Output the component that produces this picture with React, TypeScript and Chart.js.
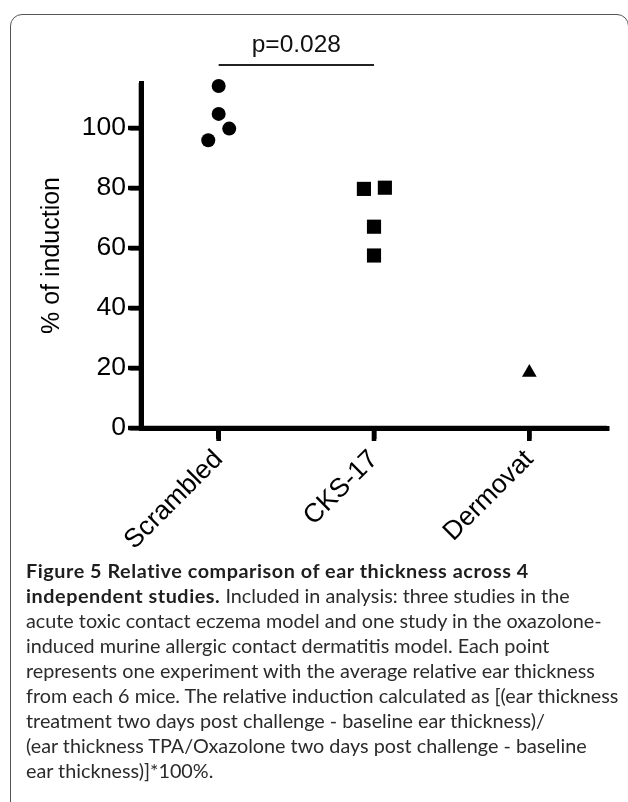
import React, { useEffect, useRef } from "react";
import { Chart, registerables } from "chart.js";

Chart.register(...registerables);

// ---- data ----
const categories = ["Scrambled", "CKS-17", "Dermovat"];
const scrambledValues = [114, 104.7, 99.8, 95.9];
const scrambledJitter = [0, 0, 0.068, -0.067];
const cksValues = [79.7, 80.1, 67.1, 57.5];
const cksJitter = [-0.065, 0.07, 0, 0];
const dermovatValues = [18.5];
const dermovatJitter = [0];
const yTicks = [0, 20, 40, 60, 80, 100];
const yAxisTitle = "% of induction";
const comparisonFrom = 0;
const comparisonTo = 1;
const comparisonLineValue = 121;
const comparisonLabelValue = 125.3;
const comparisonLabel = "p=0.028";

const captionBoldLine1 = "Figure 5 Relative comparison of ear thickness across 4";
const captionBoldLine2 = "independent studies.";
const captionRestLine2 = " Included in analysis: three studies in the";
const captionLines = [
  "acute toxic contact eczema model and one study in the oxazolone-",
  "induced murine allergic contact dermatitis model. Each point",
  "represents one experiment with the average relative ear thickness",
  "from each 6 mice. The relative induction calculated as [(ear thickness",
  "treatment two days post challenge - baseline ear thickness)/",
  "(ear thickness TPA/Oxazolone two days post challenge - baseline",
  "ear thickness)]*100%.",
];

const FONT = '"Liberation Sans", Arial, Helvetica, sans-serif';
const AXIS_W = 4.6;
const TICK_LEN = 13;

const toPoints = (cat: number, values: number[], jitter: number[]) =>
  values.map((v, i) => ({ x: cat + jitter[i], y: v }));

// heavy axes drawn on the library's own scale geometry
const heavyAxesPlugin = {
  id: "heavyAxes",
  beforeDatasetsDraw(chart: any) {
    const { ctx, chartArea, scales } = chart;
    const x = scales.x;
    const y = scales.y;
    const { left, right, top, bottom } = chartArea;
    ctx.save();
    ctx.strokeStyle = "#000";
    ctx.lineWidth = AXIS_W;
    ctx.lineCap = "butt";
    ctx.beginPath();
    // y axis
    ctx.moveTo(left, top);
    ctx.lineTo(left, bottom + AXIS_W / 2);
    // x axis
    ctx.moveTo(left - AXIS_W / 2, bottom);
    ctx.lineTo(right, bottom);
    // y ticks
    yTicks.forEach((v) => {
      const py = y.getPixelForValue(v);
      ctx.moveTo(left - TICK_LEN, py);
      ctx.lineTo(left, py);
    });
    // x ticks
    categories.forEach((_, i) => {
      const px = x.getPixelForValue(i);
      ctx.moveTo(px, bottom);
      ctx.lineTo(px, bottom + TICK_LEN);
    });
    ctx.stroke();
    ctx.restore();
  },
};

const bracketPlugin = {
  id: "bracket",
  afterDraw(chart: any) {
    const { ctx, scales } = chart;
    const x = scales.x;
    const y = scales.y;
    const x1 = x.getPixelForValue(comparisonFrom);
    const x2 = x.getPixelForValue(comparisonTo);
    const yl = y.getPixelForValue(comparisonLineValue);
    ctx.save();
    ctx.strokeStyle = "#222";
    ctx.lineWidth = 2;
    ctx.beginPath();
    ctx.moveTo(x1, yl);
    ctx.lineTo(x2, yl);
    ctx.stroke();
    ctx.fillStyle = "#111";
    ctx.font = `24.5px ${FONT}`;
    ctx.textAlign = "center";
    ctx.textBaseline = "alphabetic";
    ctx.fillText(comparisonLabel, (x1 + x2) / 2, y.getPixelForValue(comparisonLabelValue));
    ctx.restore();
  },
};

const axisGrid = {
  display: true,
  drawOnChartArea: false,
  drawTicks: true,
  tickLength: 11,
  tickWidth: 4.5,
  lineWidth: 4.5,
  color: "#000",
  tickColor: "#000",
};

export default function App() {
  const ref = useRef<HTMLCanvasElement | null>(null);

  useEffect(() => {
    if (!ref.current) return;
    const chart = new Chart(ref.current, {
      type: "scatter",
      data: {
        datasets: [
          {
            label: categories[0],
            data: toPoints(0, scrambledValues, scrambledJitter),
            pointStyle: "circle",
            pointRadius: 7,
            backgroundColor: "#000",
            borderWidth: 0,
            clip: false,
          },
          {
            label: categories[1],
            data: toPoints(1, cksValues, cksJitter),
            pointStyle: "rect",
            pointRadius: 10,
            backgroundColor: "#000",
            borderWidth: 0,
            clip: false,
          },
          {
            label: categories[2],
            data: toPoints(2, dermovatValues, dermovatJitter),
            pointStyle: "triangle",
            pointRadius: 8.5,
            backgroundColor: "#000",
            borderWidth: 0,
            clip: false,
          },
        ] as any,
      },
      options: {
        animation: false,
        responsive: false,
        devicePixelRatio: 1,
        events: [],
        layout: { padding: { left: 10, right: 21, top: 83, bottom: 0 } },
        plugins: {
          legend: { display: false },
          tooltip: { enabled: false },
        },
        scales: {
          x: {
            type: "linear",
            min: -0.5,
            max: 2.5,
            afterBuildTicks: (scale: any) => {
              scale.ticks = categories.map((_, i) => ({ value: i }));
            },
            afterFit: (scale: any) => {
              scale.height = 172;
            },
            ticks: {
              autoSkip: false,
              minRotation: 45,
              maxRotation: 45,
              padding: 5,
              color: "#000",
              font: { family: FONT, size: 26.5 },
              callback: (v: any) => categories[Math.round(Number(v))] ?? "",
            },
            grid: axisGrid,
            border: { display: true, color: "#000", width: 5 },
          },
          y: {
            type: "linear",
            min: 0,
            max: 115,
            afterBuildTicks: (scale: any) => {
              scale.ticks = yTicks.map((v) => ({ value: v }));
            },
            afterFit: (scale: any) => {
              scale.width = 131;
            },
            ticks: {
              padding: 4,
              color: "#000",
              font: { family: FONT, size: 26.5 },
            },
            title: {
              display: true,
              text: yAxisTitle,
              color: "#000",
              font: { family: FONT, size: 25 },
              padding: { top: 27, bottom: 0 },
            },
            grid: axisGrid,
            border: { display: true, color: "#000", width: 5 },
          },
        },
      } as any,
      plugins: [heavyAxesPlugin, bracketPlugin],
    });
    return () => chart.destroy();
  }, []);

  const bold = { fontWeight: 700, color: "#1e1e1e", letterSpacing: "0.55px" };

  return (
    <div
      style={{
        position: "fixed",
        left: 0,
        top: 0,
        width: 628,
        height: 802,
        overflow: "hidden",
        background: "#fff",
      }}
    >
      <div
        style={{
          position: "absolute",
          left: 10,
          top: 14,
          width: 619,
          height: 820,
          boxSizing: "border-box",
          border: "1.5px solid #555",
          borderRadius: 12,
        }}
      />
      <canvas
        ref={ref}
        width={628}
        height={600}
        style={{ position: "absolute", left: 0, top: 0, width: 628, height: 600 }}
      />
      <div
        style={{
          position: "absolute",
          left: 26,
          top: 558,
          fontFamily: "Lato, 'Open Sans', sans-serif",
          fontSize: 19.8,
          lineHeight: "25px",
          color: "#2b2b2b",
          whiteSpace: "nowrap",
        }}
      >
        <div style={bold}>{captionBoldLine1}</div>
        <div>
          <span style={bold}>{captionBoldLine2}</span>
          {captionRestLine2}
        </div>
        {captionLines.map((l, i) => (
          <div key={i}>{l}</div>
        ))}
      </div>
    </div>
  );
}
